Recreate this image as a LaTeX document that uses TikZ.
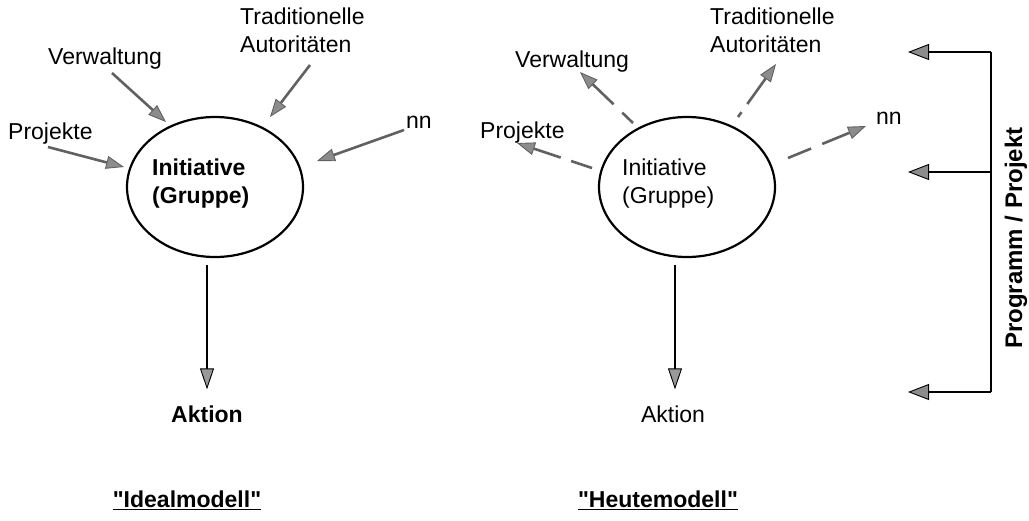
\documentclass[tikz,border=0pt]{standalone}
\usepackage{fontspec}
\setmainfont{Liberation Sans}[Ligatures=TeXOff]
\usetikzlibrary{arrows.meta,shapes.geometric,calc}
\tikzset{
  lbl/.style={font=\fontsize{23}{28}\selectfont, inner sep=0pt},
  blbl/.style={font=\fontsize{23}{28}\selectfont\bfseries, inner sep=0pt},
  oval/.style={draw=black, line width=2.2pt, ellipse, minimum width=176pt, minimum height=140pt, inner sep=0pt},
  inarr/.style={draw=black!62, line width=2.6pt, -{Triangle[length=18pt,width=13pt,fill=black!45,line width=0.9pt]}},
  outarr/.style={inarr},
  downarr/.style={draw=black, line width=2.2pt, -{Triangle[length=21pt,width=14pt,fill=black!40,line width=0.9pt]}},
  brk/.style={draw=black, line width=2pt},
  brkarr/.style={draw=black, line width=2pt, -{Triangle[length=21pt,width=16pt,fill=black!45,line width=0.9pt]}}
}
\begin{document}
\begin{tikzpicture}[x=1pt,y=-1pt]
\useasboundingbox (0,0) rectangle (1029,520);
% ---------- left: Idealmodell ----------
\node[oval] (e1) at (215,187) {};
\node[blbl, align=left, anchor=west] (t1) at (152,184) {Initiative\\(Gruppe)};
\node[lbl, anchor=base west] (vw1) at (48,64) {Verwaltung};
\node[lbl, anchor=base west] (pj1) at (8,139) {Projekte};
\node[lbl, align=left, anchor=north west] (ta1) at (240,8) {Traditionelle\\Autoritäten};
\node[lbl, anchor=base west] (nn1) at (406,128) {nn};
\coordinate (vw1t) at (112,73);  \coordinate (vw1h) at (166,122);
\coordinate (pj1t) at (48,147);  \coordinate (pj1h) at (124,167);
\coordinate (ta1t) at (310,65);  \coordinate (ta1h) at (270,117);
\coordinate (nn1t) at (404,130); \coordinate (nn1h) at (317,161);
\draw[inarr] (vw1t) -- (vw1h);
\draw[inarr] (pj1t) -- (pj1h);
\draw[inarr] (ta1t) -- (ta1h);
\draw[inarr] (nn1t) -- (nn1h);
\coordinate (d1) at (207,265);
\node[blbl] (ak1) at (207,414) {Aktion};
\draw[downarr] (d1) -- ($(ak1.north)+(0,-16)$);
\node[blbl] (id) at (187,500) {\underline{"Idealmodell"}};
% ---------- right: Heutemodell ----------
\node[oval] (e2) at (687,187) {};
\node[lbl, align=left, anchor=west] (t2) at (622,184) {Initiative\\(Gruppe)};
\node[lbl, anchor=base west] (vw2) at (515,67) {Verwaltung};
\node[lbl, anchor=base west] (pj2) at (480,138) {Projekte};
\node[lbl, align=left, anchor=north west] (ta2) at (710,8) {Traditionelle\\Autoritäten};
\node[lbl, anchor=base west] (nn2) at (876,124) {nn};
\coordinate (vw2t) at (633,123); \coordinate (vw2h) at (580,72);
\coordinate (pj2t) at (592,168); \coordinate (pj2h) at (517,143);
\coordinate (ta2t) at (738,117); \coordinate (ta2h) at (776,64);
\coordinate (nn2t) at (788,158); \coordinate (nn2h) at (866,126);
\draw[outarr, dash pattern=on 15pt off 12pt on 200pt] (vw2t) -- (vw2h);
\draw[outarr, dash pattern=on 22pt off 11pt on 200pt] (pj2t) -- (pj2h);
\draw[outarr, dash pattern=on 6pt off 10pt on 200pt] (ta2t) -- (ta2h);
\draw[outarr, dash pattern=on 25pt off 12pt on 200pt] (nn2t) -- (nn2h);
\coordinate (d2) at (675,265);
\node[lbl] (ak2) at (673,414) {Aktion};
\draw[downarr] (d2) -- ($(ak2.north)+(2,-16)$);
\node[blbl] (hm) at (658,500) {\underline{"Heutemodell"}};
% ---------- bracket: Programm / Projekt ----------
\coordinate (b1) at (991,52);
\coordinate (b2) at (991,172);
\coordinate (b3) at (991,392);
\coordinate (a1) at (908,52);
\coordinate (a2) at (908,172);
\coordinate (a3) at (908,392);
\draw[brk] (b1) -- (b3);
\draw[brkarr] (b1) -- (a1);
\draw[brkarr] (b2) -- (a2);
\draw[brkarr] (b3) -- (a3);
\node[blbl, rotate=90, font=\fontsize{24}{28}\selectfont\bfseries] (pp) at (1016,238) {Programm / Projekt};
\end{tikzpicture}
\end{document}
